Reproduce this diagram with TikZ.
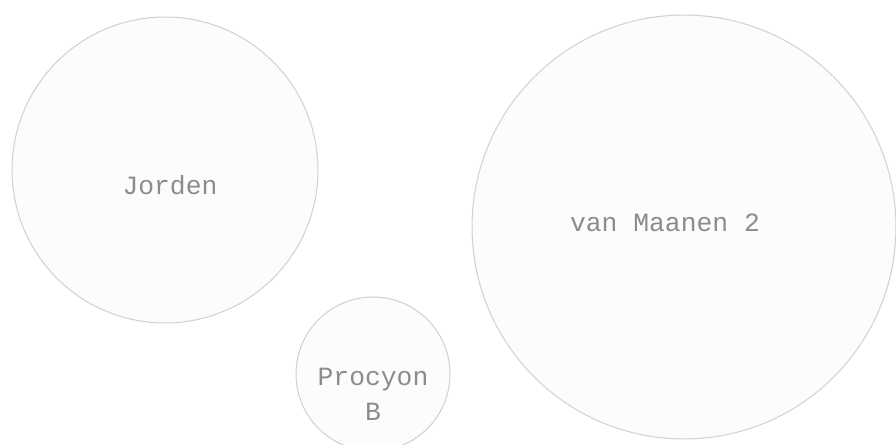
\documentclass[tikz,border=0pt]{standalone}
\usepackage{fontspec}
\setmonofont{Liberation Mono}
\usetikzlibrary{
  positioning,
  shapes.geometric,
}
\definecolor{pencil}{HTML}{D2D2D2}
\definecolor{shade}{HTML}{FCFCFC}
\definecolor{typeInk}{HTML}{8C8C8C}
\tikzset{
  star/.style={
    circle, draw=pencil, fill=shade, inner sep=0pt, line width=0.6pt,
  },
  starname/.style={
    font=\ttfamily\fontsize{15}{20}\selectfont, text=typeInk, align=center,
    inner sep=1pt,
  },
}

\begin{document}
\begin{tikzpicture}[x=0.02cm, y=-0.02cm]

  \useasboundingbox (0,0) rectangle (896,445);

  % Stars
  \node[star, minimum size=6.12cm] (jorden) at (165,170) {};
  \node[star, minimum size=3.08cm] (procyon) at (373,374) {};
  \node[star, minimum size=8.48cm] (maanen) at (684,227) {};

  % Names
  \node[starname] (jordenname) at (170,185) {Jorden};
  \node[starname] (procyonname) at (373,394) {Procyon\\B};
  \node[starname] (maanenname) at (665,223) {van Maanen 2};

\end{tikzpicture}
\end{document}
